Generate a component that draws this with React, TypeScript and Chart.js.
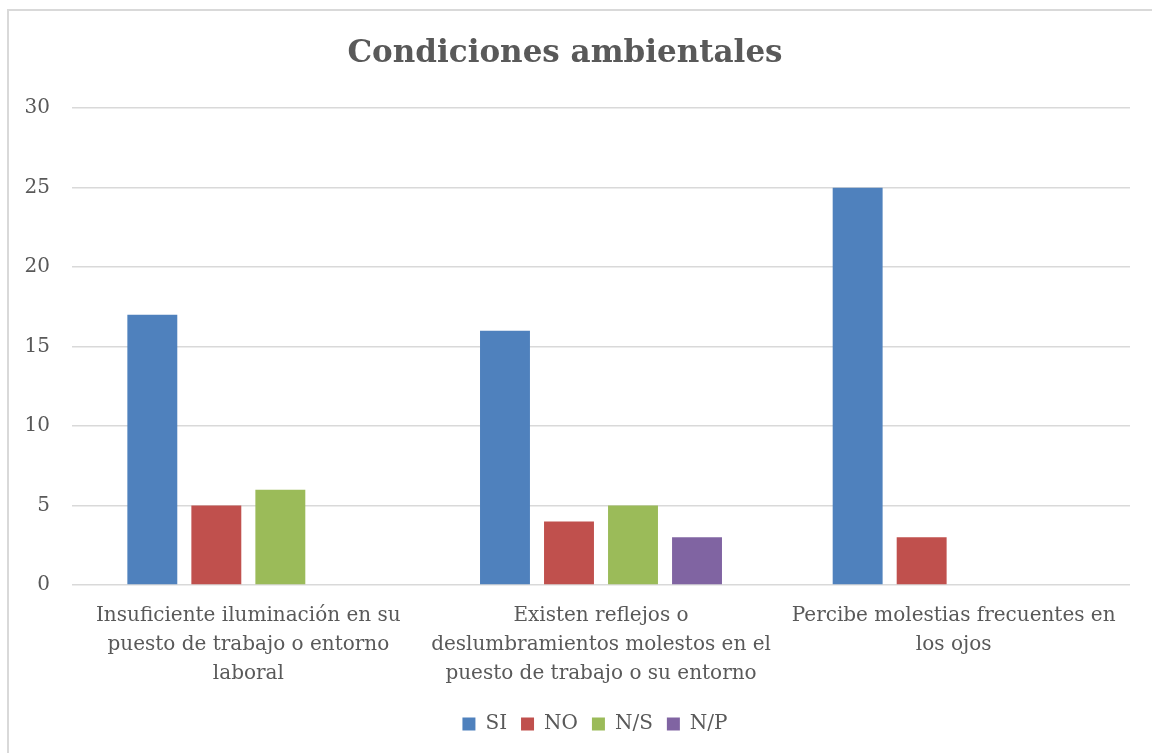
import React, { useEffect, useRef } from "react";
import { Chart, registerables } from "chart.js";

Chart.register(...registerables);

const categories: string[][] = [
  ["Insuficiente iluminación en su", "puesto de trabajo o entorno", "laboral"],
  ["Existen reflejos o", "deslumbramientos molestos en el", "puesto de trabajo o su entorno"],
  ["Percibe molestias frecuentes en", "los ojos"],
];
const seriesNames = ["SI", "NO", "N/S", "N/P"];
const siValues = [17, 16, 25];
const noValues = [5, 4, 3];
const nsValues = [6, 5, 0];
const npValues = [0, 3, 0];
const yTicks = [0, 5, 10, 15, 20, 25, 30];
const colors = ["#4F81BD", "#C0504D", "#9BBB59", "#8064A2"];

const FONT = "'DejaVu Serif', serif";
const TEXT = "#595959";

export default function App() {
  const ref = useRef<HTMLCanvasElement | null>(null);
  useEffect(() => {
    document.body.style.margin = "0";
    document.body.style.overflow = "hidden";
    const borderPlugin = {
      id: "outerBorder",
      beforeDraw(chart: any) {
        const ctx = chart.ctx;
        ctx.save();
        ctx.fillStyle = "#ffffff";
        ctx.fillRect(0, 0, chart.width, chart.height);
        ctx.strokeStyle = "#d9d9d9";
        ctx.lineWidth = 2;
        ctx.strokeRect(8, 10, chart.width + 20, chart.height + 20);
        ctx.restore();
      },
    };
    const legendShift = {
      id: "legendShift",
      afterLayout(chart: any) {
        const lg = chart.legend;
        if (!lg) return;
        lg.left += 30;
        lg.right += 30;
        lg.top -= 4;
        lg.bottom -= 4;
      },
    };
    const chart = new Chart(ref.current!, {
      type: "bar",
      data: {
        labels: categories,
        datasets: [siValues, noValues, nsValues, npValues].map((d, i) => ({
          label: seriesNames[i],
          data: d,
          backgroundColor: colors[i],
          borderWidth: 0,
          categoryPercentage: 0.726,
          barPercentage: 0.78,
        })),
      },
      options: {
        animation: false,
        responsive: false,
        layout: { padding: { left: 0, right: 22, top: 0, bottom: 5 } },
        plugins: {
          title: {
            display: true,
            text: "Condiciones ambientales",
            color: TEXT,
            font: { family: FONT, size: 31, weight: "bold" },
            padding: { top: 35, bottom: 36 },
          },
          legend: {
            position: "bottom",
            labels: {
              color: TEXT,
              font: { family: FONT, size: 20 },
              boxWidth: 13,
              boxHeight: 13,
              padding: 14,
            },
          },
          tooltip: { enabled: false },
        },
        scales: {
          x: {
            grid: { display: false, drawTicks: false },
            border: { display: false },
            ticks: {
              color: TEXT,
              font: { family: FONT, size: 20, lineHeight: 1.45 },
              autoSkip: false,
              maxRotation: 0,
              padding: 16,
            },
          },
          y: {
            min: 0,
            max: 30,
            afterBuildTicks(scale: any) {
              scale.ticks = yTicks.map((v) => ({ value: v }));
            },
            afterFit(scale: any) {
              scale.width = 72;
            },
            grid: { color: "#d9d9d9", lineWidth: 1.5, drawTicks: false },
            border: { display: false },
            ticks: {
              color: TEXT,
              font: { family: FONT, size: 20 },
              padding: 22,
            },
          },
        },
      },
      plugins: [borderPlugin, legendShift],
    } as any);
    return () => chart.destroy();
  }, []);
  return (
    <div style={{ position: "fixed", left: 0, top: 0, width: 1152, height: 753 }}>
      <canvas ref={ref} width={1152} height={753} style={{ display: "block" }} />
    </div>
  );
}
